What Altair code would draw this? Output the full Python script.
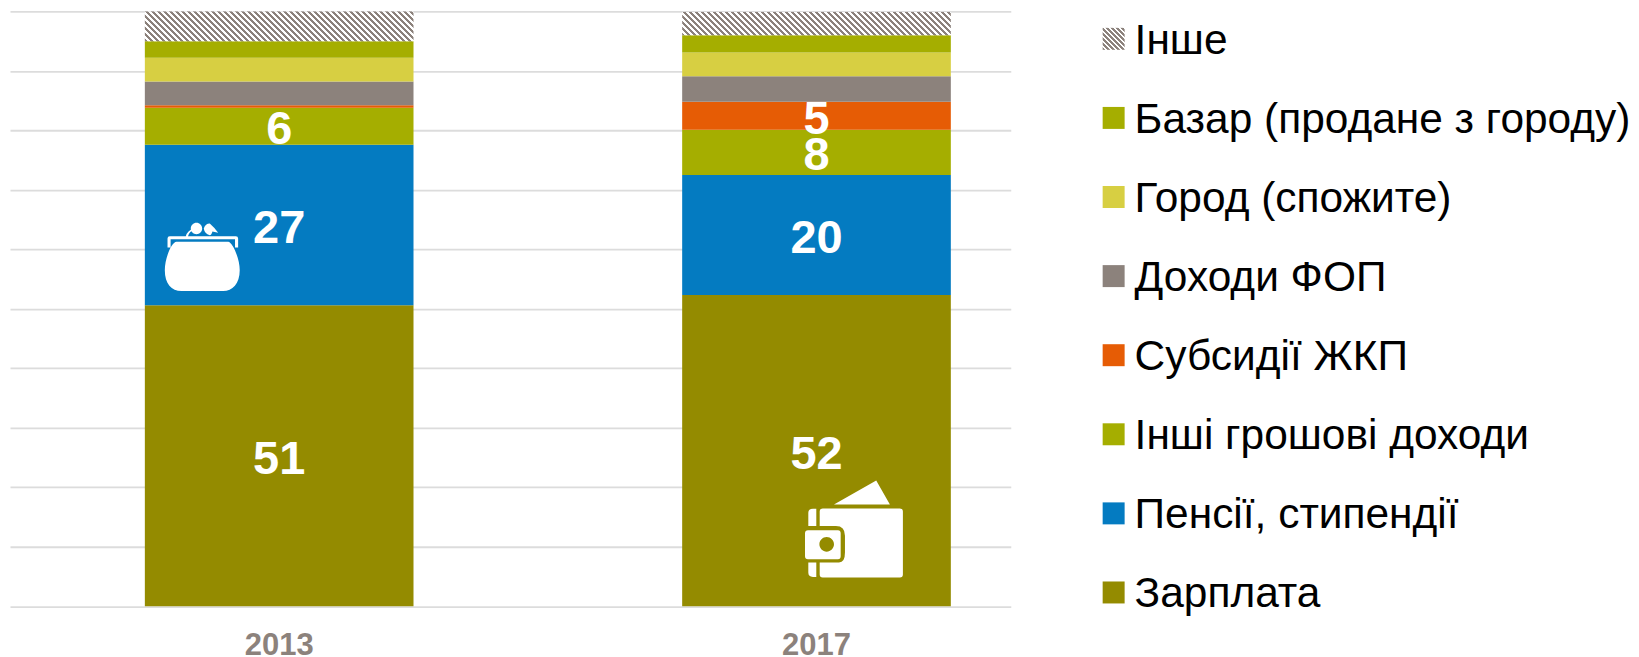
import altair as alt
import pandas as pd

years = ["2013", "2017"]
series = ["Зарплата", "Пенсії, стипендії", "Інші грошові доходи", "Субсидії ЖКП",
          "Доходи ФОП", "Город (спожите)", "Базар (продане з городу)", "Інше"]
values_2013 = [50.6, 27.0, 6.2, 0.4, 4.0, 4.0, 2.8, 5.0]
values_2017 = [52.3, 20.2, 7.6, 4.7, 4.3, 4.0, 2.9, 3.9]
labels_2013 = ["51", "27", "6", "", "", "", "", ""]
labels_2017 = ["52", "20", "8", "5", "", "", "", ""]
colors = ["#948B00", "#047BC1", "#A5AE00", "#E65C05", "#8C827C", "#D7CF42", "#A5AE00", "#8C827C"]
grid_ticks = list(range(0, 101, 10))

PLOT_W, PLOT_H = 1002, 595.5
FONT = "Liberation Sans"

PURSE = ("M-25,-11.7 L26.7,-11.7 C31,-11.7 38.3,5 38.3,16.7 C38.3,30 31,37.7 21.7,37.7 L-20,37.7 "
         "C-30,37.7 -36.7,30 -36.7,16.7 C-36.7,5 -30,-11.7 -25,-11.7 Z "
         "M-34,-6 L-34,-15 Q-34,-17.3 -31.7,-17.3 L34.4,-17.3 Q36.7,-17.3 36.7,-15 L36.7,-6 L33.6,-6 "
         "L33.6,-14.2 L-30.9,-14.2 L-30.9,-6 Z "
         "M-10.7,-25 A5.7,5.7 0 1 1 0.7,-25 A5.7,5.7 0 1 1 -10.7,-25 Z "
         "M2.3,-25 Q4,-30 8.3,-30 Q13,-26 16.7,-20.7 L11,-22 Q10,-18.3 8.3,-18.3 Q3,-20 2.3,-25 Z "
         "M-15.7,-17.3 Q-14,-23 -8,-25 L-8,-23.5 Q-12,-22 -13.5,-17.3 Z")
WALLET = ("M-20,-23.3 L22.3,-47.3 L36,-23.3 Z "
          "M-31.3,-19.3 L46,-19.3 Q49,-19.3 49,-16.3 L49,47 Q49,50 46,50 L-31.3,50 Q-34.3,50 -34.3,47 "
          "L-34.3,35 L-15,35 Q-9,35 -9,25 L-9,8 Q-9,-1.7 -18,-1.7 L-34.3,-1.7 L-34.3,-16.3 Q-34.3,-19.3 -31.3,-19.3 Z "
          "M-37.7,-19 L-37.7,-1.7 L-45.7,-1.7 L-45.7,-15 Q-45.7,-19 -41,-19 Z "
          "M-45.7,35 L-37.7,35 L-37.7,49.3 L-41,49.3 Q-45.7,49.3 -45.7,45 Z "
          "M-46,2.7 L-16,2.7 Q-13.3,2.7 -13.3,5.7 L-13.3,28.7 Q-13.3,31.7 -16,31.7 L-46,31.7 "
          "Q-49,31.7 -49,28.7 L-49,5.7 Q-49,2.7 -46,2.7 Z "
          "M-34.6,16.7 A7.3,7.3 0 1 0 -20,16.7 A7.3,7.3 0 1 0 -34.6,16.7 Z")


def hatch(w, h, period=6.0):
    """Diagonal stripes as a hard-stop linear gradient in bounding-box units."""
    span = w + h
    k = span / (w * w + h * h)
    stops = []
    i = 0
    while i * period < span:
        a = i * period / span
        b = min((i + 0.5) * period / span, 1.0)
        c = min((i + 1) * period / span, 1.0)
        stops += [
            alt.GradientStop(offset=a, color="#8C827C"),
            alt.GradientStop(offset=b, color="#8C827C"),
            alt.GradientStop(offset=b, color="#FFFFFF"),
            alt.GradientStop(offset=c, color="#FFFFFF"),
        ]
        i += 1
    return alt.LinearGradient(gradient="linear", stops=stops,
                              x1=0, y1=1, x2=k * w, y2=1 - k * h)


rows = []
for year, vals, labs in [("2013", values_2013, labels_2013), ("2017", values_2017, labels_2017)]:
    base = 0.0
    for s, v, l in zip(series, vals, labs):
        rows.append({"year": year, "series": s, "bottom": base, "top": base + v,
                     "mid": base + v / 2, "label": l})
        base += v
df = pd.DataFrame(rows)
df_solid = df[df.series != "Інше"]
df_labels = df[df.label != ""]

x_enc = alt.X("year:N", scale=alt.Scale(domain=years, paddingInner=0.5, paddingOuter=0.18125, align=0.6923),
              axis=alt.Axis(title=None, labelFont=FONT, labelFontSize=31, labelFontWeight="bold",
                            labelColor="#8C827C", labelAngle=0, labelPadding=24, ticks=False,
                            domain=False, grid=False))
y_enc = alt.Y("bottom:Q", scale=alt.Scale(domain=[0, 100], nice=False),
              axis=alt.Axis(title=None, labels=False, ticks=False, domain=False, grid=True,
                            gridColor="#DCDCDC", gridWidth=1.8, values=grid_ticks))

bars = alt.Chart(df_solid).mark_bar().encode(
    x=x_enc, y=y_enc, y2="top:Q",
    color=alt.Color("series:N", scale=alt.Scale(domain=series, range=colors), legend=None),
)

hatched = []
for year in years:
    sub = df[(df.series == "Інше") & (df.year == year)]
    h = float(sub.top.iloc[0] - sub.bottom.iloc[0]) / 100 * PLOT_H
    hatched.append(alt.Chart(sub).mark_bar(color=hatch(269, h)).encode(x=x_enc, y=y_enc, y2="top:Q"))

labels = alt.Chart(df_labels).mark_text(font=FONT, fontSize=47, fontWeight="bold", color="white",
                                        baseline="middle", dy=4).encode(
    x=x_enc, y=alt.Y("mid:Q"), text="label:N")

icon_purse = alt.Chart(pd.DataFrame({"year": ["2013"], "pos": [59.3]})).mark_point(
    shape=PURSE, filled=True, fill="white", stroke=None, opacity=1, size=4, xOffset=-77.8
).encode(x=x_enc, y=alt.Y("pos:Q"))
icon_wallet = alt.Chart(pd.DataFrame({"year": ["2017"], "pos": [13.2]})).mark_point(
    shape=WALLET, filled=True, fill="white", stroke=None, opacity=1, size=4, xOffset=37.5
).encode(x=x_enc, y=alt.Y("pos:Q"))

left = alt.layer(bars, *hatched, labels, icon_purse, icon_wallet).properties(width=PLOT_W, height=PLOT_H)

legend_order = series[::-1]
leg = pd.DataFrame({"series": legend_order})
leg_y = alt.Y("series:N", scale=alt.Scale(domain=legend_order, type="point", padding=0.26, align=0.667),
              axis=None)
leg_solid = alt.Chart(leg[leg.series != "Інше"]).mark_square(size=484, opacity=1).encode(
    x=alt.value(103), y=leg_y,
    color=alt.Color("series:N", scale=alt.Scale(domain=series, range=colors), legend=None),
)
leg_hatch = alt.Chart(leg[leg.series == "Інше"]).mark_square(size=484, opacity=1, color=hatch(22, 22, 5.0)).encode(
    x=alt.value(103), y=leg_y)
leg_text = alt.Chart(leg).mark_text(font=FONT, fontSize=42.5, align="left", baseline="middle", color="black", dy=2).encode(
    x=alt.value(124), y=leg_y, text="series:N")
right = alt.layer(leg_solid, leg_hatch, leg_text).properties(width=600, height=PLOT_H)

chart = alt.hconcat(left, right, spacing=0).resolve_scale(color="independent", y="independent").properties(
    padding={"left": 2, "top": 3, "right": 0, "bottom": 0}
).configure_view(stroke=None)

chart.save("out.html", embed_options={"renderer": "svg", "actions": False})
